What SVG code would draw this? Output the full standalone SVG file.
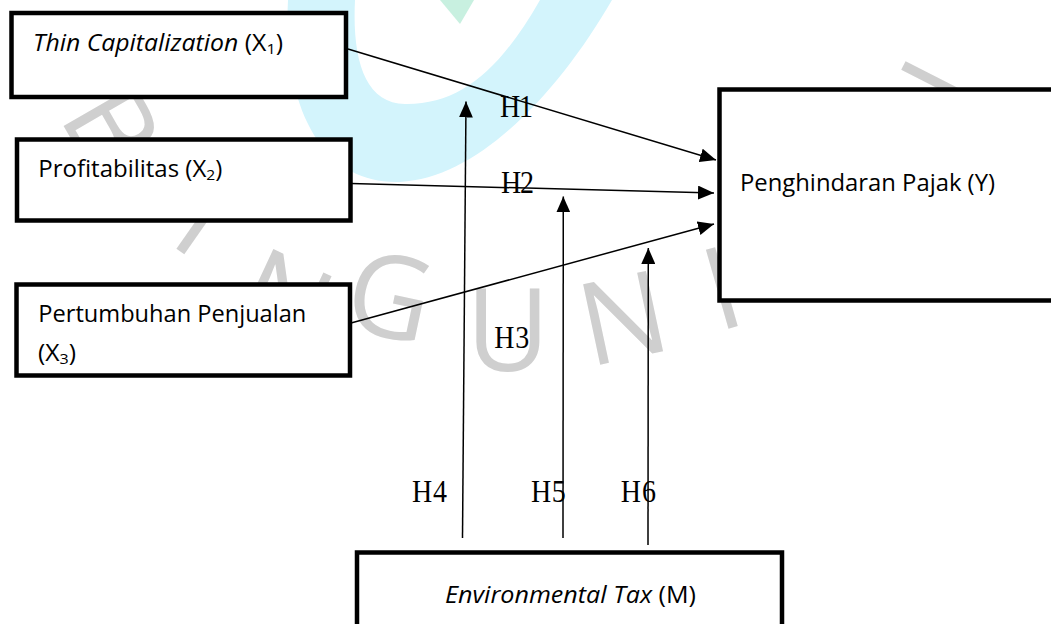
<svg xmlns="http://www.w3.org/2000/svg" width="1051" height="624" viewBox="0 0 1051 624">
<style>
.box{fill:#fff;stroke:#000;stroke-width:4.5}
.lbl{font-family:"Open Sans","Noto Sans",sans-serif;font-size:23px;fill:#000}
.it{font-style:italic}
.sub{font-size:15px}
.h{font-family:"Liberation Serif","Times New Roman",serif;font-size:28px;fill:#000}
.conn{stroke:#000;stroke-width:1.5;fill:none;marker-end:url(#ah)}
.wm{font-family:"Open Sans","Noto Sans",sans-serif;font-size:115px;fill:#cfcfcf;text-anchor:middle}
</style>
<defs>
<marker id="ah" viewBox="0 0 16 14" refX="16" refY="7" markerUnits="userSpaceOnUse" markerWidth="16" markerHeight="14" orient="auto">
<path d="M0,0 L16,7 L0,14 Z" fill="#000"/>
</marker>
</defs>
<rect x="0" y="0" width="1051" height="624" fill="#fff"/>
<g id="watermark">
<path d="M288,0 C282,120 330,185 400,182 C480,178 560,90 612,0 L540,0 C500,70 460,105 405,104 C365,103 352,60 355,0 Z" fill="#d3f4fc"/>
<path d="M440,0 L474,0 L460,24 Z" fill="#c8f0e0"/>
<text class="wm" transform="translate(112,128) rotate(60)" y="41">B</text>
<text class="wm" transform="translate(204,218) rotate(35)" y="41">I</text>
<text class="wm" transform="translate(285,300) rotate(25)" y="41">N</text>
<text class="wm" transform="translate(390,296) rotate(12)" y="41">G</text>
<text class="wm" transform="translate(508,330) rotate(0)" y="41">U</text>
<text class="wm" transform="translate(623,318) rotate(-12)" y="41">N</text>
<text class="wm" transform="translate(722,288) rotate(-16)" y="41">I</text>
<text class="wm" transform="translate(940,84) rotate(-63)" y="41">I</text>
</g>
<g id="node-x1">
<rect class="box" x="11.5" y="13" width="334.5" height="84"/>
<text class="lbl" x="33" y="51" textLength="250" lengthAdjust="spacingAndGlyphs"><tspan class="it">Thin Capitalization</tspan> (X<tspan class="sub" dy="3">1</tspan><tspan dy="-3">)</tspan></text>
</g>
<g id="node-x2">
<rect class="box" x="17" y="139.5" width="333.5" height="81"/>
<text class="lbl" x="38.3" y="176.5" textLength="184" lengthAdjust="spacingAndGlyphs">Profitabilitas (X<tspan class="sub" dy="3">2</tspan><tspan dy="-3">)</tspan></text>
</g>
<g id="node-x3">
<rect class="box" x="16.5" y="284.5" width="333.5" height="91"/>
<text class="lbl" x="38.3" y="321.5" textLength="268" lengthAdjust="spacingAndGlyphs">Pertumbuhan Penjualan</text>
<text class="lbl" x="38" y="361" textLength="38" lengthAdjust="spacingAndGlyphs">(X<tspan class="sub" dy="3">3</tspan><tspan dy="-3">)</tspan></text>
</g>
<g id="node-y">
<rect class="box" x="719.5" y="89.5" width="400" height="211"/>
<text class="lbl" x="740" y="191" textLength="255" lengthAdjust="spacingAndGlyphs">Penghindaran Pajak (Y)</text>
</g>
<g id="node-m">
<rect class="box" x="357" y="552.5" width="425" height="100"/>
<text class="lbl" x="445" y="603.3" textLength="251" lengthAdjust="spacingAndGlyphs"><tspan class="it">Environmental Tax</tspan> (M)</text>
</g>
<g id="connectors">
<line class="conn" x1="348" y1="49" x2="716" y2="160"/>
<line class="conn" x1="351" y1="183.5" x2="714" y2="193"/>
<line class="conn" x1="351" y1="323" x2="714" y2="224"/>
<line class="conn" x1="462.5" y1="538" x2="466" y2="101.5"/>
<line class="conn" x1="563" y1="538" x2="563.3" y2="196.5"/>
<line class="conn" x1="648" y1="545" x2="648.3" y2="248"/>
</g>
<g id="labels">
<text class="h" transform="translate(500,117) scale(1,1.13)" textLength="33">H1</text>
<text class="h" transform="translate(501,193.3) scale(1,1.13)" textLength="33">H2</text>
<text class="h" transform="translate(494.3,348.3) scale(1,1.13)" textLength="35">H3</text>
<text class="h" transform="translate(412,501.7) scale(1,1.13)" textLength="35">H4</text>
<text class="h" transform="translate(531,501.7) scale(1,1.13)" textLength="34.7">H5</text>
<text class="h" transform="translate(620.7,501.7) scale(1,1.13)" textLength="35.3">H6</text>
</g>
</svg>
